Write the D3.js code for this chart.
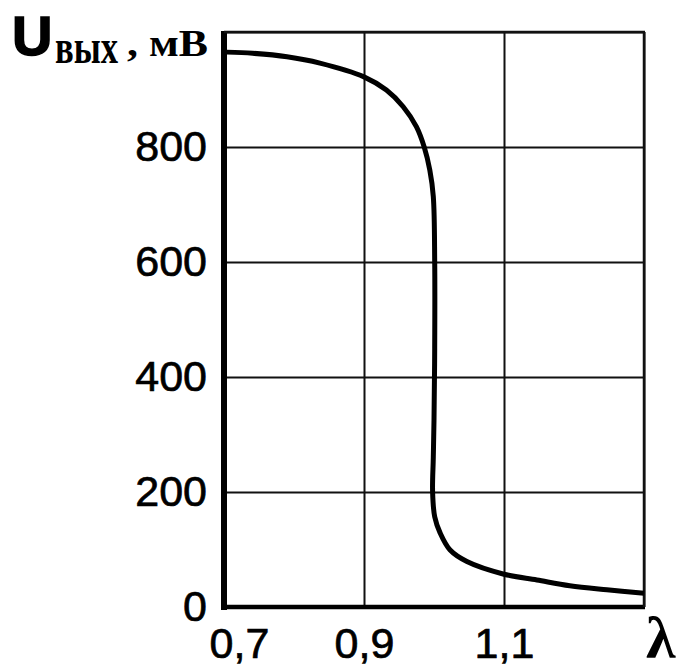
<!DOCTYPE html>
<html>
<head>
<meta charset="utf-8">
<script src="https://cdn.jsdelivr.net/npm/d3@7"></script>
<style>
  body { margin: 0; background: #fff; }
  .grid line { stroke: #111; stroke-width: 2; }
  .grid text { font-family: "Liberation Sans", Arial, sans-serif; font-size: 43px; fill: #000;
    stroke: #000; stroke-width: 0.7px; }
</style>
</head>
<body>
<div id="chart"></div>
<script>
// lambda values along the curve
var lambda = [0.704, 0.741, 0.790, 0.837, 0.900, 0.932, 0.956, 0.975, 0.986, 0.994, 0.999,
  1.001, 1.001, 1.000, 0.999, 0.998, 1.001, 1.009, 1.023, 1.047, 1.100, 1.147, 1.194, 1.247, 1.300];
// output voltage, mV
var uOut = [965, 963, 957, 946, 922, 899, 870, 835, 800, 760, 714,
  600, 450, 325, 260, 200, 157, 128, 99, 79, 57, 47, 37, 30, 24];

var xTicks = [0.7, 0.9, 1.1, 1.3];
var yTicks = [0, 200, 400, 600, 800, 1000];
var xLabels = ['0,7', '0,9', '1,1', ''];
var yLabels = ['0', '200', '400', '600', '800', ''];

var margin = { top: 32, right: 42, bottom: 59, left: 224 },
  width = 686 - margin.left - margin.right,
  height = 666 - margin.top - margin.bottom;

var data = lambda.map(function(l, i){
  return { l: l, u: uOut[i] };
});

var x = d3.scaleLinear()
  .range([0, width])
  .domain([0.7, 1.3]);

var y = d3.scaleLinear()
  .range([height, 0])
  .domain([0, 1000]);

var svg = d3.select('#chart').append('svg')
  .attr('width', 686)
  .attr('height', 666);

var g = svg.append('g')
  .attr('transform', 'translate(' + margin.left + ',' + margin.top + ')');

// horizontal grid + y labels
g.append('g')
  .attr('class', 'grid')
  .call(d3.axisLeft(y)
    .tickValues(yTicks)
    .tickSize(-width)
    .tickPadding(17)
    .tickFormat(function(d, i){ return yLabels[i]; })
  )
  .call(function(a){ a.select('.domain').remove(); });

// vertical grid + x labels
var xa = g.append('g')
  .attr('class', 'grid')
  .attr('transform', 'translate(0,' + height + ')')
  .call(d3.axisBottom(x)
    .tickValues(xTicks)
    .tickSize(-height)
    .tickPadding(20)
    .tickFormat(function(d, i){ return xLabels[i]; })
  );
xa.select('.domain').remove();
xa.selectAll('.tick text').filter(function(d){ return d === 0.7; })
  .attr('dx', 15);

// frame: thick left and bottom axes, thinner top/right
g.append('line')
  .attr('x1', x(0.7)).attr('x2', x(0.7))
  .attr('y1', y(1000) - 1).attr('y2', y(0) + 3)
  .attr('stroke', '#000').attr('stroke-width', 6);
g.append('line')
  .attr('x1', x(0.7) - 3).attr('x2', x(1.3) + 1)
  .attr('y1', y(0)).attr('y2', y(0))
  .attr('stroke', '#000').attr('stroke-width', 4.5);
g.append('line')
  .attr('x1', x(0.7)).attr('x2', x(1.3) + 1)
  .attr('y1', y(1000)).attr('y2', y(1000))
  .attr('stroke', '#111').attr('stroke-width', 2.5);
g.append('line')
  .attr('x1', x(1.3)).attr('x2', x(1.3))
  .attr('y1', y(1000)).attr('y2', y(0))
  .attr('stroke', '#111').attr('stroke-width', 2.5);

var curve = d3.line()
  .x(function(d){ return x(d.l); })
  .y(function(d){ return y(d.u); })
  .curve(d3.curveCatmullRom.alpha(0.5));

g.append('path')
  .attr('d', curve(data))
  .attr('fill', 'none')
  .attr('stroke', '#000')
  .attr('stroke-width', 5)
  .attr('stroke-linejoin', 'round');

// axis titles
svg.append('text')
  .attr('x', 12).attr('y', 55)
  .style('font-family', '"Liberation Sans", Arial, sans-serif')
  .style('font-weight', 'bold')
  .style('font-size', '56px')
  .style('stroke', '#000').style('stroke-width', '1.5px')
  .text('U');
svg.append('text')
  .attr('x', 55).attr('y', 63)
  .attr('textLength', 63).attr('lengthAdjust', 'spacingAndGlyphs')
  .style('font-family', '"Liberation Serif", serif')
  .style('font-weight', 'bold')
  .style('font-size', '48px')
  .text('вых');
svg.append('text')
  .attr('x', 127).attr('y', 56)
  .attr('textLength', 81).attr('lengthAdjust', 'spacingAndGlyphs')
  .style('font-family', '"Liberation Serif", serif')
  .style('font-weight', 'bold')
  .style('font-size', '38px')
  .text(', мВ');

svg.append('text')
  .attr('x', 646).attr('y', 658)
  .style('font-family', '"Liberation Serif", serif')
  .style('font-weight', 'bold')
  .style('font-size', '60px')
  .text('λ');
</script>
</body>
</html>
